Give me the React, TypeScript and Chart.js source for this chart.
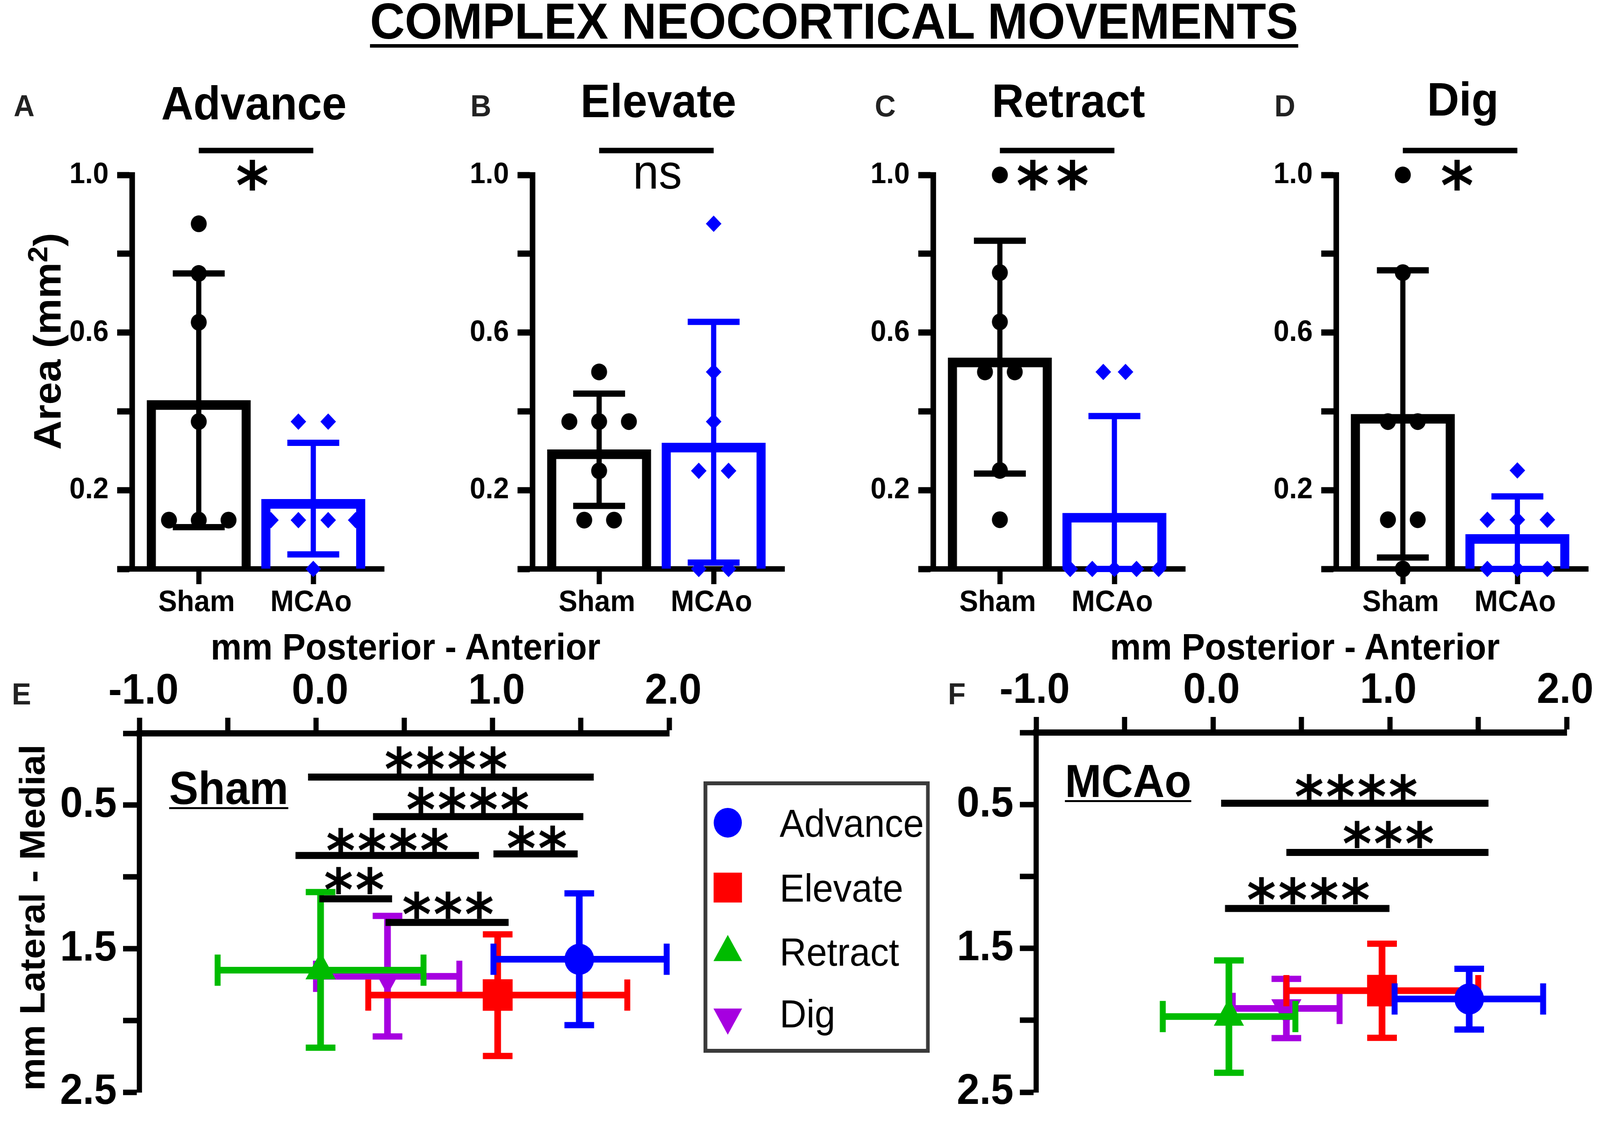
import { useEffect, useRef } from 'react'
import Chart from 'chart.js/auto'

// ---------- bar panels: values ----------
const groups = ['Sham', 'MCAo']
const areaTicks = [0, 0.2, 0.4, 0.6, 0.8, 1]
const areaLabelled = [0.2, 0.6, 1]

const advanceMeans = [0.428, 0.177]
const advanceErr = [[0.106, 0.75], [0.037, 0.32]]
const advanceSham = [[0, 0.876], [0, 0.75], [0, 0.626], [0, 0.374], [-0.26, 0.124], [0, 0.124], [0.26, 0.124]]
const advanceMcao = [[-0.13, 0.374], [0.13, 0.374], [-0.37, 0.124], [-0.13, 0.124], [0.13, 0.124], [0.37, 0.124], [0, 0]]

const elevateMeans = [0.303, 0.32]
const elevateErr = [[0.16, 0.445], [0.016, 0.627]]
const elevateSham = [[0, 0.5], [-0.26, 0.374], [0, 0.374], [0.26, 0.374], [0, 0.249], [-0.13, 0.124], [0.13, 0.124]]
const elevateMcao = [[0, 0.876], [0, 0.5], [0, 0.374], [-0.13, 0.249], [0.13, 0.249], [-0.13, 0], [0.13, 0]]

const retractMeans = [0.536, 0.142]
const retractErr = [[0.242, 0.833], [0, 0.388]]
const retractSham = [[0, 1], [0, 0.752], [0, 0.627], [-0.13, 0.5], [0.13, 0.5], [0, 0.25], [0, 0.125]]
const retractMcao = [[-0.097, 0.5], [0.097, 0.5], [-0.386, 0], [-0.193, 0], [0, 0], [0.193, 0], [0.386, 0]]

const digMeans = [0.393, 0.088]
const digErr = [[0.029, 0.758], [0, 0.184]]
const digSham = [[0, 1], [0, 0.752], [-0.13, 0.374], [0.13, 0.374], [-0.13, 0.125], [0.13, 0.125], [0, 0]]
const digMcao = [[0, 0.25], [-0.262, 0.125], [0, 0.125], [0.262, 0.125], [-0.262, 0], [0, 0], [0.262, 0]]

// ---------- location panels: [mean, low, high] ----------
const movements = ['Advance', 'Elevate', 'Retract', 'Dig']
const posteriorTicks = [-1, -0.5, 0, 0.5, 1, 1.5, 2]
const lateralTicks = [0, 0.5, 1, 1.5, 2, 2.5]
const lateralLabelled = [0.5, 1.5, 2.5]

const shamX = [[1.491, 1.005, 1.986], [1.029, 0.296, 1.763], [0.026, -0.557, 0.609], [0.405, 0, 0.812]]
const shamY = [[1.574, 1.115, 2.033], [1.823, 1.4, 2.248], [1.65, 1.106, 2.19], [1.693, 1.272, 2.112]]
const mcaoX = [[1.449, 1.027, 1.867], [0.956, 0.415, 1.5], [0.09, -0.284, 0.466], [0.415, 0.112, 0.716]]
const mcaoY = [[1.852, 1.642, 2.064], [1.794, 1.468, 2.122], [1.974, 1.584, 2.365], [1.918, 1.712, 2.124]]

// [from, to, y] and matching [text, x, y]
const shamSigBars = [[-0.045, 1.573, 0.305], [0.323, 1.514, 0.58], [-0.116, 0.923, 0.851], [1.005, 1.482, 0.84], [0.019, 0.431, 1.153], [0.394, 1.091, 1.317]]
const shamSigStars: [string, number, number][] = [['****', 0.743, 0.184], ['****', 0.866, 0.468], ['****', 0.412, 0.754], ['**', 1.258, 0.736], ['**', 0.223, 1.025], ['***', 0.754, 1.196]]
const mcaoSigBars = [[0.046, 1.558, 0.491], [0.415, 1.558, 0.833], [0.068, 0.998, 1.223]]
const mcaoSigStars: [string, number, number][] = [['****', 0.816, 0.384], ['***', 0.998, 0.708], ['****', 0.546, 1.099]]

const BLACK = '#000000'
const BLUE = '#0000ff'
const RED = '#ff0000'
const GREEN = '#00bb00'
const PURPLE = '#a600e0'
const seriesColors = [BLUE, RED, GREEN, PURPLE]
const seriesStyles = ['circle', 'rect', 'triangle', 'triangle']
const seriesRotation = [0, 0, 0, 180]
const seriesRadius = [40, 57, 47, 47]
const drawOrder = [2, 3, 1, 4]

const SANS = '"Liberation Sans", Arial, sans-serif'
const STAR_FONT = 'bold 150px "DejaVu Sans"'

type Mark = { text: string; x: number; y: number; font: string; spacing?: number; align?: CanvasTextAlign; color?: string }

function textMarks(items: Mark[]) {
  return {
    id: 'textMarks',
    afterDatasetsDraw(chart: any) {
      const { ctx, scales } = chart
      items.forEach(m => {
        ctx.save()
        ctx.font = m.font
        ctx.fillStyle = m.color || BLACK
        ctx.textAlign = m.align || 'center'
        ctx.textBaseline = 'alphabetic'
        ;(ctx as any).letterSpacing = (m.spacing || 0) + 'px'
        const box = ctx.measureText(m.text)
        const py = scales.y.getPixelForValue(m.y) + (box.actualBoundingBoxAscent - box.actualBoundingBoxDescent) / 2
        ctx.fillText(m.text, scales.x.getPixelForValue(m.x), py)
        ctx.restore()
      })
    },
  }
}

function lineSet(points: { x: number; y: number }[], color: string, width: number, order: number, capRadius = 0, capRotation = 0) {
  return {
    type: 'line',
    data: points,
    borderColor: color,
    borderWidth: width,
    pointStyle: 'line',
    pointRadius: capRadius,
    pointBorderColor: color,
    pointBorderWidth: 16,
    pointRotation: capRotation,
    parsing: false,
    clip: false,
    order,
  }
}

function dotSet(points: number[][], center: number, style: string, radius: number, color: string, order: number) {
  return {
    type: 'scatter',
    data: points.map(p => ({ x: center + p[0], y: p[1] })),
    pointStyle: style,
    pointRadius: radius,
    pointBackgroundColor: color,
    pointBorderWidth: 0,
    clip: false,
    order,
  }
}

function ChartBox({ box, config }: { box: number[]; config: () => any }) {
  const canvasRef = useRef<HTMLCanvasElement>(null)
  useEffect(() => {
    if (!canvasRef.current) return
    const chart = new Chart(canvasRef.current, config())
    return () => chart.destroy()
  }, [])
  return (
    <canvas
      ref={canvasRef}
      width={box[2]}
      height={box[3]}
      style={{ position: 'absolute', left: box[0], top: box[1], width: box[2], height: box[3], display: 'block' }}
    />
  )
}

function commonOptions() {
  return {
    responsive: false,
    animation: false as const,
    devicePixelRatio: 1,
    events: [],
    plugins: { legend: { display: false }, tooltip: { enabled: false } },
  }
}

const AREA_TOP = 448
const AREA_BOTTOM = 1457
const AREA_WIDTH = 680
const BAR_CANVAS_LEFT = 200
const BAR_CANVAS_TOP = 140
const BAR_CANVAS_BOTTOM = 130

function barPanelBox(axisLeft: number) {
  return [axisLeft - BAR_CANVAS_LEFT, AREA_TOP - BAR_CANVAS_TOP, BAR_CANVAS_LEFT + AREA_WIDTH + 20, BAR_CANVAS_TOP + AREA_BOTTOM - AREA_TOP + BAR_CANVAS_BOTTOM]
}

function barPanelConfig(means: number[], err: number[][], sham: number[][], mcao: number[][], sig: Mark) {
  return () => ({
    type: 'bar',
    data: {
      datasets: [
        {
          type: 'bar',
          data: means.map((v, i) => ({ x: i + 1, y: v })),
          backgroundColor: 'rgba(0,0,0,0)',
          borderColor: [BLACK, BLUE],
          borderWidth: 24,
          barThickness: 280,
          order: 9,
        },
        lineSet([{ x: 1, y: err[0][0] }, { x: 1, y: err[0][1] }], BLACK, 14, 5, 70),
        lineSet([{ x: 2, y: err[1][0] }, { x: 2, y: err[1][1] }], BLUE, 14, 4, 70),
        dotSet(sham, 1, 'circle', 21.5, BLACK, 2),
        dotSet(mcao, 2, 'rectRot', 21, BLUE, 1),
        { ...lineSet([{ x: 1, y: 1.062 }, { x: 2, y: 1.062 }], BLACK, 14, 0) },
      ],
    },
    options: {
      ...commonOptions(),
      layout: { autoPadding: false, padding: { top: BAR_CANVAS_TOP, right: 20, left: 0, bottom: 0 } },
      scales: {
        x: {
          type: 'linear',
          min: 0.417,
          max: 2.618,
          offset: false,
          afterFit: (s: any) => { s.height = BAR_CANVAS_BOTTOM },
          afterBuildTicks: (s: any) => { s.ticks = [{ value: 1 }, { value: 2 }] },
          border: { display: true, width: 14, color: BLACK },
          grid: { offset: false, drawOnChartArea: false, tickLength: 39, tickWidth: 14, tickColor: BLACK },
          ticks: {
            color: BLACK,
            padding: 2,
            labelOffset: -6,
            maxRotation: 0,
            autoSkip: false,
            font: { family: SANS, weight: 'bold', size: 76 },
            callback: (v: number) => groups[v - 1],
          },
        },
        y: {
          min: 0,
          max: 1,
          afterFit: (s: any) => { s.width = BAR_CANVAS_LEFT },
          afterBuildTicks: (s: any) => { s.ticks = areaTicks.map(value => ({ value })) },
          border: { display: true, width: 15, color: BLACK },
          grid: { drawOnChartArea: false, tickLength: 40, tickWidth: 16, tickColor: BLACK },
          ticks: {
            color: BLACK,
            padding: 23,
            autoSkip: false,
            font: { family: SANS, weight: 'bold', size: 76 },
            callback: (v: number) => (areaLabelled.includes(v) ? v.toFixed(1) : ''),
          },
        },
      },
    },
    plugins: [textMarks([sig])],
  })
}

function locationConfig(xs: number[][], ys: number[][], sigBars: number[][], sigStars: [string, number, number][], pad: { left: number; top: number; right: number; bottom: number; shift: number }) {
  return () => {
    const datasets: any[] = []
    movements.forEach((_, i) => {
      const base = drawOrder[i] * 10
      const color = seriesColors[i]
      datasets.push(lineSet([{ x: xs[i][1], y: ys[i][0] }, { x: xs[i][2], y: ys[i][0] }], color, 17, base + 2, 40, 90))
      datasets.push(lineSet([{ x: xs[i][0], y: ys[i][1] }, { x: xs[i][0], y: ys[i][2] }], color, 18, base + 1, 40))
      datasets.push({
        type: 'scatter',
        data: [{ x: xs[i][0], y: ys[i][0] }],
        pointStyle: seriesStyles[i],
        pointRadius: seriesRadius[i],
        pointRotation: seriesRotation[i],
        pointBackgroundColor: color,
        pointBorderWidth: 0,
        clip: false,
        order: base,
      })
    })
    sigBars.forEach(b => {
      datasets.push(lineSet([{ x: b[0], y: b[2] }, { x: b[1], y: b[2] }], BLACK, 18, 0))
    })
    return {
      type: 'scatter',
      data: { datasets },
      options: {
        ...commonOptions(),
        layout: { autoPadding: false, padding: { right: pad.right, bottom: pad.bottom, left: 0, top: 0 } },
        scales: {
          x: {
            type: 'linear',
            position: 'top',
            min: -1,
            max: 2,
            afterFit: (s: any) => { s.height = pad.top },
            afterBuildTicks: (s: any) => { s.ticks = posteriorTicks.map(value => ({ value })) },
            border: { display: true, width: 16, color: BLACK },
            grid: { drawOnChartArea: false, tickLength: 40, tickWidth: 14, tickColor: BLACK },
            ticks: {
              color: BLACK,
              padding: 0,
              labelOffset: pad.shift,
              maxRotation: 0,
              autoSkip: false,
              font: { family: SANS, weight: 'bold', size: 110 },
              callback: (v: number) => (Number.isInteger(v) ? v.toFixed(1) : ''),
            },
          },
          y: {
            type: 'linear',
            reverse: true,
            min: 0,
            max: 2.5,
            afterFit: (s: any) => { s.width = pad.left },
            afterBuildTicks: (s: any) => { s.ticks = lateralTicks.map(value => ({ value })) },
            border: { display: true, width: 14, color: BLACK },
            grid: { drawOnChartArea: false, tickLength: 44, tickWidth: 14, tickColor: BLACK },
            ticks: {
              color: BLACK,
              padding: 17,
              autoSkip: false,
              font: { family: SANS, weight: 'bold', size: 110 },
              callback: (v: number) => (lateralLabelled.includes(v) ? v.toFixed(1) : ''),
            },
          },
        },
      },
      plugins: [textMarks(sigStars.map(s => ({ text: s[0], x: s[1], y: s[2], font: STAR_FONT, spacing: 6 })))],
    }
  }
}

function legendConfig() {
  return () => ({
    type: 'scatter',
    data: {
      datasets: movements.map((_, i) => ({
        data: [{ x: 0, y: i }],
        pointStyle: seriesStyles[i],
        pointRadius: seriesRadius[i] * 0.95,
        pointRotation: seriesRotation[i],
        pointBackgroundColor: seriesColors[i],
        pointBorderWidth: 0,
      })),
    },
    options: {
      ...commonOptions(),
      layout: { autoPadding: false, padding: 0 },
      scales: {
        x: { display: false, type: 'linear', min: -0.43, max: 4.17 },
        y: { display: false, type: 'linear', reverse: true, min: -0.578, max: 3.488 },
      },
    },
    plugins: [textMarks(movements.map((m, i) => ({ text: m, x: 1.09, y: i, font: `100px ${SANS}`, align: 'left' as CanvasTextAlign })))],
  })
}

function Label({ text, x, y, size, bold = true, rotate = 0, underline = '', offset = 8, color = BLACK, children }: any) {
  return (
    <div
      style={{
        position: 'absolute',
        left: x,
        top: y,
        transform: `translate(-50%, -50%) rotate(${rotate}deg)`,
        font: `${bold ? 'bold ' : ''}${size}px/1 ${SANS}`,
        whiteSpace: 'nowrap',
        color,
        textDecoration: underline ? 'underline' : 'none',
        textDecorationThickness: underline || undefined,
        textUnderlineOffset: offset,
      }}
    >
      {text}
      {children}
    </div>
  )
}

const LEFT_AXES = [356, 1436, 2517, 3604]
const PAGE_WIDTH = 4316

export default function App() {
  const star = (text: string, x: number): Mark => ({ text, x, y: 1.0, font: 'bold 170px "DejaVu Sans"', spacing: 18 })
  // the browser can stop short of the wide page, squeeze it in rather than lose panel D
  const fit = Math.min(1, window.innerWidth / PAGE_WIDTH)
  return (
    <div style={{ position: 'absolute', left: 0, top: 0, width: PAGE_WIDTH, height: 2881, overflow: 'hidden', background: '#fff', transform: `scaleX(${fit})`, transformOrigin: '0 0' }}>
      <Label text="COMPLEX NEOCORTICAL MOVEMENTS" x={2250} y={54} size={130} underline="9px" offset={14} />

      <Label text="A" x={65} y={271} size={78} color="#222" />
      <Label text="B" x={1297} y={271} size={78} color="#222" />
      <Label text="C" x={2388} y={271} size={78} color="#222" />
      <Label text="D" x={3466} y={271} size={78} color="#222" />
      <Label text="E" x={58} y={1777} size={78} color="#222" />
      <Label text="F" x={2581} y={1777} size={78} color="#222" />

      <Label text="Advance" x={685} y={264} size={120} />
      <Label text="Elevate" x={1776} y={258} size={120} />
      <Label text="Retract" x={2882} y={258} size={120} />
      <Label text="Dig" x={3946} y={254} size={120} />

      <Label x={127} y={874} size={104} rotate={-90}>
        Area (mm<sup style={{ fontSize: 74, lineHeight: 0 }}>2</sup>)
      </Label>

      <Label text="mm Posterior - Anterior" x={1094} y={1657} size={94} />
      <Label text="mm Posterior - Anterior" x={3520} y={1657} size={94} />
      <Label text="mm Lateral - Medial" x={88} y={2350} size={95} rotate={-90} />

      <Label text="Sham" x={617} y={2018} size={118} underline="5px" />
      <Label text="MCAo" x={3043} y={2000} size={118} underline="5px" />

      <ChartBox box={barPanelBox(LEFT_AXES[0])} config={barPanelConfig(advanceMeans, advanceErr, advanceSham, advanceMcao, star('*', 1.497))} />
      <ChartBox
        box={barPanelBox(LEFT_AXES[1])}
        config={barPanelConfig(elevateMeans, elevateErr, elevateSham, elevateMcao, { text: 'ns', x: 1.509, y: 0.998, font: `125px ${SANS}` })}
      />
      <ChartBox box={barPanelBox(LEFT_AXES[2])} config={barPanelConfig(retractMeans, retractErr, retractSham, retractMcao, star('**', 1.49))} />
      <ChartBox box={barPanelBox(LEFT_AXES[3])} config={barPanelConfig(digMeans, digErr, digSham, digMcao, star('*', 1.503))} />

      <ChartBox
        box={[116, 1690, 1800, 1190]}
        config={locationConfig(shamX, shamY, shamSigBars, shamSigStars, { left: 260, top: 188, right: 111, bottom: 48, shift: 11 })}
      />
      <ChartBox
        box={[2535, 1690, 1781, 1190]}
        config={locationConfig(mcaoX, mcaoY, mcaoSigBars, mcaoSigStars, { left: 260, top: 186, right: 90, bottom: 52, shift: -4 })}
      />

      <div style={{ position: 'absolute', left: 1898, top: 2001, width: 590, height: 675, border: '10px solid #3a3a3a', boxSizing: 'content-box' }}>
        <ChartBox box={[0, 0, 590, 675]} config={legendConfig()} />
      </div>
    </div>
  )
}
